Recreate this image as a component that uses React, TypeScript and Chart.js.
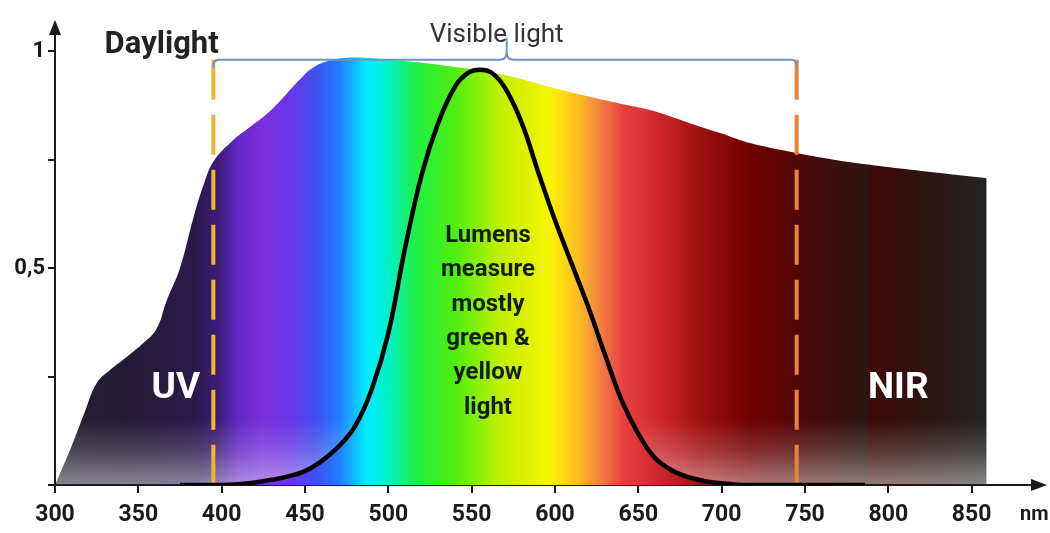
import React, { useEffect, useRef } from 'react';
import { Chart, registerables } from 'chart.js';

Chart.register(...registerables);

// Daylight spectral curve (wavelength nm, relative intensity)
const DAYLIGHT_NM = [300, 310, 318, 325, 333, 343, 353, 361, 367, 375, 383, 389, 395, 407, 417, 427, 435, 447, 455, 465, 480, 500, 520, 540, 555, 575, 597, 620, 640, 657, 680, 700, 717, 745, 770, 789, 810, 835, 859];
const DAYLIGHT_VAL = [0, 0.09, 0.17, 0.235, 0.265, 0.295, 0.327, 0.36, 0.425, 0.5, 0.615, 0.69, 0.745, 0.795, 0.825, 0.855, 0.885, 0.935, 0.962, 0.978, 0.985, 0.98, 0.973, 0.963, 0.955, 0.94, 0.917, 0.895, 0.878, 0.864, 0.835, 0.81, 0.788, 0.765, 0.748, 0.738, 0.728, 0.717, 0.707];

// Luminosity (lumens) curve
const LUM_NM = [375, 400, 410, 420, 430, 440, 450, 460, 470, 480, 490, 500, 510, 520, 530, 540, 548, 555, 562, 570, 580, 590, 600, 610, 620, 630, 640, 650, 660, 670, 680, 690, 700, 715, 786];
const LUM_VAL = [0, 0, 0.002, 0.006, 0.012, 0.02, 0.032, 0.055, 0.088, 0.135, 0.22, 0.35, 0.545, 0.715, 0.835, 0.918, 0.95, 0.957, 0.95, 0.915, 0.835, 0.72, 0.61, 0.51, 0.41, 0.30, 0.195, 0.118, 0.062, 0.034, 0.018, 0.009, 0.004, 0, 0];

// Spectrum colour stops
const SPEC_NM = [300, 340, 385, 398, 410, 425, 440, 457, 471, 487, 499, 517, 540, 567, 597, 613, 627, 641, 661, 687, 717, 750, 786, 789.5, 830, 859];
const SPEC_COLORS = ['#262230', '#241a34', '#2a1a4c', '#3c1c78', '#6228c4', '#7a30dc', '#6a34e4', '#4050f0', '#2080ff', '#00eeff', '#00f0d0', '#20f040', '#50ee10', '#c0f000', '#f8f400', '#ffc020', '#f08040', '#e84040', '#d02830', '#a01010', '#700000', '#4c0808', '#2c1414', '#3c0a0a', '#2c1616', '#222222'];

// Visible light boundaries
const VISIBLE_RANGE = [395, 745];
const VISIBLE_TOP = 0.98;
const BRACKET_TIP_NM = 571;

// Axis
const X_MIN = 300;
const X_MAX = 888;
const X_STEP = 50;
const Y_MAX = 1.06;
const Y_STEP = 0.25;
const Y_TICK_TEXT: Record<string, string> = { '0.5': '0,5', '1': '1' };

const LUMENS_TEXT = ['Lumens', 'measure', 'mostly', 'green &', 'yellow', 'light'];

const TICK_FONT = 'Roboto, sans-serif';

export default function App() {
  const ref = useRef<HTMLCanvasElement | null>(null);

  useEffect(() => {
    const canvas = ref.current;
    if (!canvas) return;

    const daylight = DAYLIGHT_NM.map((x, i) => ({ x, y: DAYLIGHT_VAL[i] }));
    const lum = LUM_NM.map((x, i) => ({ x, y: LUM_VAL[i] }));

    const spectrumFill = (ctx: any) => {
      const chart = ctx.chart;
      const area = chart.chartArea;
      const xs = chart.scales?.x;
      if (!area || !xs) return '#6030c0';
      const x0 = xs.getPixelForValue(X_MIN);
      const x1 = xs.getPixelForValue(SPEC_NM[SPEC_NM.length - 1]);
      const g = chart.ctx.createLinearGradient(x0, 0, x1, 0);
      SPEC_NM.forEach((nm, i) => {
        const p = (xs.getPixelForValue(nm) - x0) / (x1 - x0);
        g.addColorStop(Math.min(1, Math.max(0, p)), SPEC_COLORS[i]);
      });
      return g;
    };

    const overlay = {
      id: 'overlay',
      afterDatasetDraw(chart: any, args: any) {
        if (args.index !== 0) return;
        const { ctx, chartArea, scales } = chart;
        const yTop = scales.y.getPixelForValue(0.15);
        const yBot = chartArea.bottom - 1;
        const g = ctx.createLinearGradient(0, yTop, 0, yBot);
        g.addColorStop(0, 'rgba(255,255,255,0)');
        g.addColorStop(0.5, 'rgba(255,255,255,0.18)');
        g.addColorStop(1, 'rgba(255,255,255,0.45)');
        ctx.save();
        ctx.fillStyle = g;
        ctx.fillRect(chartArea.left + 1, yTop, chartArea.right - chartArea.left, yBot - yTop);
        ctx.restore();
      },
      afterDraw(chart: any) {
        const { ctx, chartArea, scales } = chart;
        const xs = scales.x;
        const ys = scales.y;
        const X = (v: number) => xs.getPixelForValue(v);
        const Y = (v: number) => ys.getPixelForValue(v);
        ctx.save();

        // arrows
        ctx.fillStyle = '#1a1a1a';
        ctx.beginPath();
        ctx.moveTo(chartArea.right + 12, chartArea.bottom);
        ctx.lineTo(chartArea.right - 4, chartArea.bottom - 6);
        ctx.lineTo(chartArea.right - 4, chartArea.bottom + 6);
        ctx.closePath();
        ctx.fill();
        ctx.beginPath();
        ctx.moveTo(chartArea.left, chartArea.top - 5);
        ctx.lineTo(chartArea.left - 6, chartArea.top + 10);
        ctx.lineTo(chartArea.left + 6, chartArea.top + 10);
        ctx.closePath();
        ctx.fill();

        // bracket
        const bx1 = X(VISIBLE_RANGE[0]);
        const bx2 = X(VISIBLE_RANGE[1]);
        const bm = X(BRACKET_TIP_NM);
        const by = Y(VISIBLE_TOP);
        ctx.strokeStyle = '#6a95c8';
        ctx.lineWidth = 2;
        ctx.beginPath();
        ctx.moveTo(bx1, by + 8);
        ctx.quadraticCurveTo(bx1, by, bx1 + 5, by);
        ctx.lineTo(bm - 7, by);
        ctx.quadraticCurveTo(bm, by, bm, by - 8);
        ctx.lineTo(bm, by - 22);
        ctx.moveTo(bm, by - 8);
        ctx.quadraticCurveTo(bm, by, bm + 7, by);
        ctx.lineTo(bx2 - 5, by);
        ctx.quadraticCurveTo(bx2, by, bx2, by + 8);
        ctx.stroke();

        ctx.textAlign = 'center';
        ctx.textBaseline = 'alphabetic';

        ctx.fillStyle = '#333333';
        ctx.font = '26px Roboto, sans-serif';
        ctx.fillText('Visible light', X(565), 42);

        ctx.fillStyle = '#222222';
        ctx.font = 'bold 31px Roboto, sans-serif';
        ctx.fillText('Daylight', X(364), 53);

        ctx.fillStyle = '#ffffff';
        ctx.font = 'bold 37px Roboto, sans-serif';
        ctx.fillText('UV', X(372.5), Y(0.2));
        ctx.fillText('NIR', X(806), Y(0.2));

        ctx.fillStyle = '#102010';
        ctx.font = 'bold 24px Roboto, sans-serif';
        LUMENS_TEXT.forEach((t, i) => {
          ctx.fillText(t, X(559.8), 242 + i * 34.3);
        });

        // unit
        ctx.fillStyle = '#1a1a1a';
        ctx.font = 'bold 20px Roboto, sans-serif';
        ctx.textAlign = 'left';
        ctx.fillText('nm', 1020, 520);

        ctx.restore();
      },
    };

    const chart = new Chart(canvas, {
      type: 'line',
      data: {
        datasets: [
          {
            label: 'Daylight',
            data: daylight,
            fill: 'origin',
            backgroundColor: spectrumFill,
            borderColor: 'rgba(0,0,0,0)',
            borderWidth: 0,
            pointRadius: 0,
            tension: 0.4,
            order: 4,
          },
          {
            label: 'UV limit',
            data: [{ x: VISIBLE_RANGE[0], y: VISIBLE_TOP }, { x: VISIBLE_RANGE[0], y: 0 }],
            borderColor: '#f2b530',
            borderWidth: 4,
            borderDash: [40, 15],
            borderCapStyle: 'butt',
            pointRadius: 0,
            fill: false,
            order: 3,
          },
          {
            label: 'NIR limit',
            data: [{ x: VISIBLE_RANGE[1], y: VISIBLE_TOP }, { x: VISIBLE_RANGE[1], y: 0 }],
            borderColor: '#e8843a',
            borderWidth: 4,
            borderDash: [40, 15],
            borderCapStyle: 'butt',
            pointRadius: 0,
            fill: false,
            order: 3,
          },
          {
            label: 'Lumens',
            data: lum,
            borderColor: '#000000',
            backgroundColor: spectrumFill,
            borderWidth: 4.5,
            pointRadius: 0,
            fill: 'origin',
            tension: 0.4,
            order: 1,
          },
        ],
      },
      options: {
        responsive: false,
        animation: false,
        layout: { padding: { top: 25, right: 15, left: 0, bottom: 0 } },
        plugins: { legend: { display: false }, tooltip: { enabled: false } },
        scales: {
          x: {
            type: 'linear',
            min: X_MIN,
            max: X_MAX,
            afterFit: (s: any) => { s.height = 48; },
            ticks: {
              stepSize: X_STEP,
              includeBounds: false,
              color: '#1a1a1a',
              padding: 8,
              maxRotation: 0,
              autoSkip: false,
              font: { family: TICK_FONT, size: 23, weight: 'bold' },
              callback: (v: any) => String(v),
            },
            grid: { drawOnChartArea: false, drawTicks: true, tickLength: 8, color: '#1a1a1a', lineWidth: 2 },
            border: { display: true, color: '#1a1a1a', width: 2 },
          },
          y: {
            type: 'linear',
            min: 0,
            max: Y_MAX,
            afterFit: (s: any) => { s.width = 55; },
            ticks: {
              stepSize: Y_STEP,
              includeBounds: false,
              color: '#1a1a1a',
              padding: 3,
              autoSkip: false,
              font: { family: TICK_FONT, size: 22, weight: 'bold' },
              callback: (v: any) => {
                const key = String(Math.round(Number(v) * 100) / 100);
                return Y_TICK_TEXT[key] ?? '';
              },
            },
            grid: { drawOnChartArea: false, drawTicks: true, tickLength: 7, color: '#1a1a1a', lineWidth: 2 },
            border: { display: true, color: '#1a1a1a', width: 2 },
          },
        },
      },
      plugins: [overlay],
    });

    return () => chart.destroy();
  }, []);

  return (
    <div style={{ position: 'fixed', left: 0, top: 0, width: 1050, height: 533, background: '#ffffff' }}>
      <canvas ref={ref} width={1050} height={533} />
    </div>
  );
}
